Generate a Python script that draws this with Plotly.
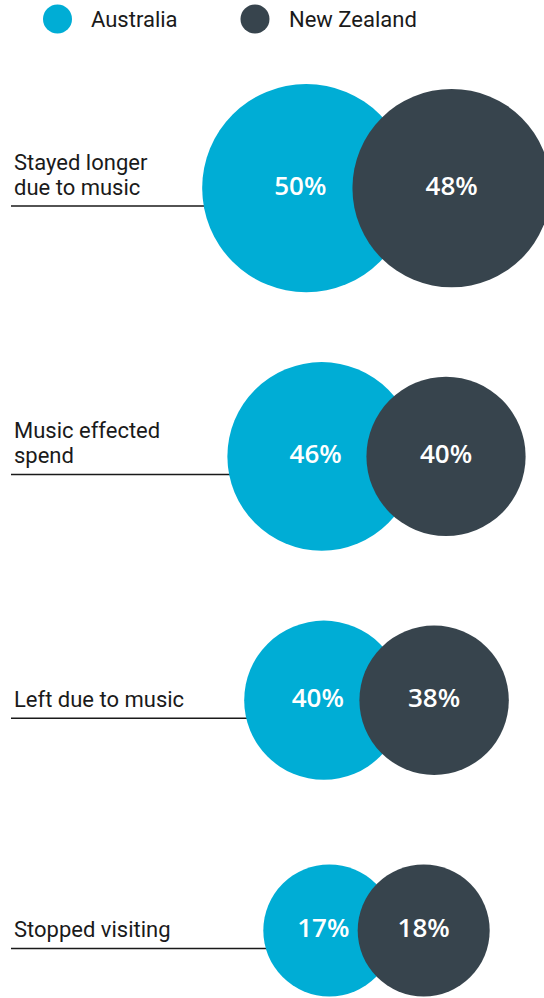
import plotly.graph_objects as go

# ---- data ----
categories = ["Stayed longer<br>due to music", "Music effected<br>spend", "Left due to music", "Stopped visiting"]
australia = [50, 46, 40, 17]
new_zealand = [48, 40, 38, 18]
series_names = ["Australia", "New Zealand"]

# ---- style ----
BLUE = "#00ADD5"
DARK = "#37444D"
TEXT = "#1a1a1a"
W, H = 544, 998
LABEL_SIZE = 22
LINE_STEP = 25.5

def radius(v):
    # bubble radius scale (px) with a minimum size
    return max(66.0, 2.45 * v - 18.4)

# layout geometry derived from the radii
pair_mid = 376.5
overlap_k = 0.715
row_gap = 89.5   # vertical gap between consecutive New Zealand bubbles
top = 84

rows = []
y = None
prev_rn = None
for i, (cat, a, n) in enumerate(zip(categories, australia, new_zealand)):
    ra, rn = radius(a), radius(n)
    if y is None:
        y = top + max(ra, rn)
    else:
        y = y + prev_rn + row_gap + rn
    d = overlap_k * (ra + rn)
    width = ra + d + rn
    left = pair_mid - width / 2
    xa = left + ra
    xn = xa + d
    rows.append(dict(cat=cat, a=a, n=n, ra=ra, rn=rn, xa=xa, xn=xn, y=y))
    prev_rn = rn

fig = go.Figure()

pct_font = dict(family="Open Sans", size=26, color="white", weight=600)

fig.add_trace(go.Scatter(
    x=[r["xa"] for r in rows], y=[r["y"] for r in rows],
    mode="markers",
    marker=dict(size=[2 * r["ra"] for r in rows], color=BLUE, line=dict(width=0), opacity=1),
    name=series_names[0], showlegend=False, hoverinfo="skip",
))
fig.add_trace(go.Scatter(
    x=[r["xa"] - 6 for r in rows], y=[r["y"] for r in rows],
    mode="text",
    text=[f"{v}%" for v in australia], textposition="middle center",
    textfont=pct_font, showlegend=False, hoverinfo="skip",
))
fig.add_trace(go.Scatter(
    x=[r["xn"] for r in rows], y=[r["y"] for r in rows],
    mode="markers+text",
    marker=dict(size=[2 * r["rn"] for r in rows], color=DARK, line=dict(width=0), opacity=1),
    text=[f"{v}%" for v in new_zealand], textposition="middle center",
    textfont=pct_font, name=series_names[1], showlegend=False, hoverinfo="skip",
))

shapes = []
annotations = []
label_offset = 18
for r in rows:
    ly = r["y"] + label_offset
    shapes.append(dict(type="line", x0=11, x1=r["xa"], y0=ly, y1=ly, xref="x", yref="y",
                       line=dict(color=TEXT, width=1.5), layer="below"))
    lines = r["cat"].split("<br>")
    for i, txt in enumerate(reversed(lines)):
        annotations.append(dict(x=12, y=ly - 4 - i * LINE_STEP, xref="x", yref="y", text=txt,
                                showarrow=False, xanchor="left", yanchor="bottom", align="left",
                                font=dict(family="Roboto", size=LABEL_SIZE, color=TEXT)))

# manual legend
legend_items = [(57.5, BLUE, series_names[0], 89), (255, DARK, series_names[1], 287)]
for cx, col, name, tx in legend_items:
    shapes.append(dict(type="circle", xref="x", yref="y", x0=cx - 14.5, x1=cx + 14.5, y0=19 - 14.5, y1=19 + 14.5,
                       fillcolor=col, line=dict(width=0)))
    annotations.append(dict(x=tx, y=19, xref="x", yref="y", text=name, showarrow=False,
                            xanchor="left", yanchor="middle",
                            font=dict(family="Roboto", size=LABEL_SIZE, color=TEXT)))

fig.update_layout(
    width=W, height=H, margin=dict(l=0, r=0, t=0, b=0),
    paper_bgcolor="white", plot_bgcolor="white",
    xaxis=dict(range=[0, W], visible=False, fixedrange=True),
    yaxis=dict(range=[H, 0], visible=False, fixedrange=True),
    shapes=shapes, annotations=annotations, showlegend=False,
)

fig.write_html("out.html")
